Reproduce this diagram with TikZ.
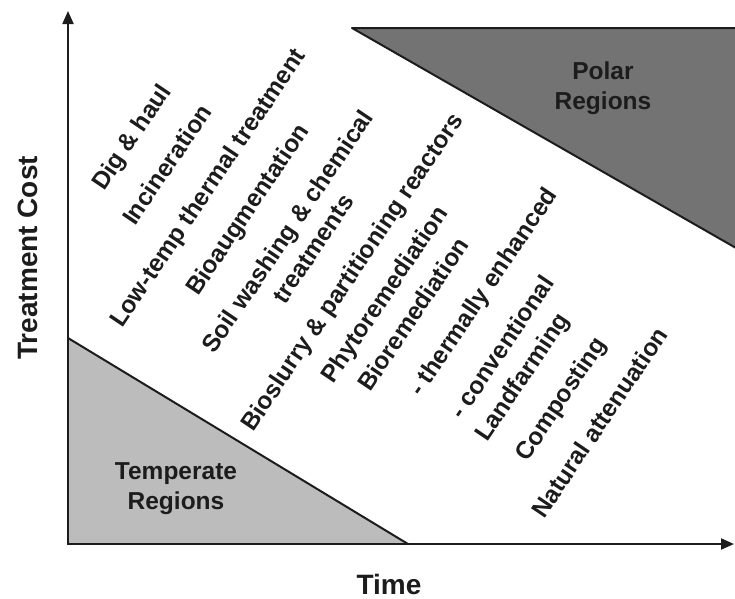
\documentclass[tikz,border=0pt]{standalone}
\usepackage{fontspec}
\setmainfont{Liberation Sans}
\usetikzlibrary{arrows.meta}

\definecolor{polargray}{RGB}{115,115,115}
\definecolor{tempgray}{RGB}{188,188,188}
\definecolor{inkgray}{RGB}{28,28,28}

\begin{document}
\begin{tikzpicture}[x=1pt, y=-1pt,
    method/.style={font=\fontsize{24.5}{31}\selectfont\bfseries, text=inkgray, rotate=56, anchor=base west, inner sep=0pt},
    region/.style={font=\fontsize{24.5}{30}\selectfont\bfseries, text=inkgray, align=center, inner sep=0pt},
    axislabel/.style={font=\fontsize{28}{34}\selectfont\bfseries, text=inkgray, inner sep=0pt},
    edge/.style={line width=2pt, inkgray, line join=round},
    axisline/.style={line width=2pt, inkgray, {Triangle[length=13pt,width=11pt]}-{Triangle[length=13pt,width=11pt]}}]
    \useasboundingbox (0,0) rectangle (735,598);

    % Axes corner and tips
    \coordinate (origin) at (68,544);
    \coordinate (ytip) at (68,11);
    \coordinate (xtip) at (734,544);

    % Temperate regions (lower left)
    \coordinate (tempTop) at (68,338);
    \coordinate (tempEnd) at (408,544);
    \fill[tempgray] (origin) -- (tempTop) -- (tempEnd) -- cycle;
    \draw[edge] (tempTop) -- (tempEnd);
    \node[region] (temperate) at (176,489) {Temperate\\Regions};

    % Polar regions (upper right)
    \coordinate (polarStart) at (352,28);
    \coordinate (polarCorner) at (736,28);
    \coordinate (polarEnd) at (736,248);
    \fill[polargray] (polarStart) -- (polarCorner) -- (polarEnd) -- cycle;
    \draw[edge] (polarCorner) -- (polarStart) -- (polarEnd);
    \node[region] (polar) at (603,88) {Polar\\Regions};

    % Axes
    \draw[axisline] (ytip) -- (origin) -- (xtip);
    \node[axislabel, rotate=90, anchor=base west] (cost) at (37,360) {Treatment Cost};
    \node[axislabel, anchor=base] (time) at (389,594) {Time};

    % Treatment methods, dearest first
    \node[method] (dig) at (104,192) {Dig \& haul};
    \node[method] (incin) at (135,227) {Incineration};
    \node[method] (lowtemp) at (122,329) {Low-temp thermal treatment};
    \node[method] (bioaug) at (198,297) {Bioaugmentation};
    \node[method, anchor=center, align=center] (soilwash) at (300,240) {Soil washing \& chemical\\treatments};
    \node[method] (biosl) at (253,433) {Bioslurry \& partitioning reactors};
    \node[method] (phyto) at (333,385) {Phytoremediation};
    \node[method] (biorem) at (370,393) {Bioremediation};
    \node[method] (thermal) at (421,398) {- thermally enhanced};
    \node[method] (conv) at (462,421) {- conventional};
    \node[method] (landf) at (487,443) {Landfarming};
    \node[method] (compost) at (527,463) {Composting};
    \node[method] (natatt) at (544,520) {Natural attenuation};
\end{tikzpicture}
\end{document}
